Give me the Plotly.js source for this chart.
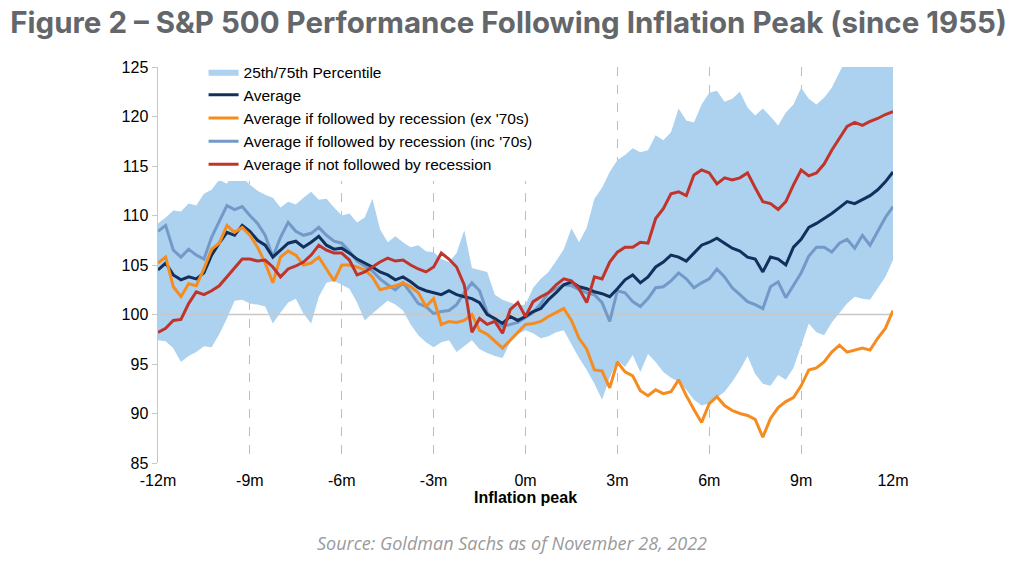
<!DOCTYPE html>
<html>
<head>
<meta charset="utf-8">
<script src="https://cdn.plot.ly/plotly-3.0.1.min.js"></script>
<style>
  html, body { margin: 0; padding: 0; background: #fff; }
  #chart { width: 1024px; height: 570px; }
</style>
</head>
<body>
<div id="chart"></div>
<script>
// months from -12 to +12, one point every quarter month
var months = [];
for (var i = 0; i <= 96; i++) months.push(-12 + i * 0.25);

var tickVals = [-12, -9, -6, -3, 0, 3, 6, 9, 12];
var tickText = ['-12m', '-9m', '-6m', '-3m', '0m', '3m', '6m', '9m', '12m'];
var baseline = 100;

var average = [
  104.5, 105.2, 104.0, 103.5, 103.8, 103.6, 104.2, 106.0, 107.2, 108.3,
  108.0, 109.0, 108.4, 107.5, 107.0, 105.8, 106.5, 107.2, 107.4, 106.8,
  107.3, 107.9, 107.0, 106.6, 106.7, 106.2, 105.6, 105.2, 104.8, 104.3,
  104.0, 103.5, 103.8, 103.3, 102.7, 102.4, 102.2, 102.0, 102.4, 102.0,
  101.8, 101.6, 101.2, 100.0, 99.6, 99.1, 99.8, 99.4, 99.8, 100.3,
  100.6, 101.5, 102.2, 103.0, 103.3, 102.8, 102.6, 102.3, 102.1, 101.8,
  102.6, 103.5, 104.0, 103.2, 103.8, 104.8, 105.3, 106.0, 105.8, 105.4,
  106.2, 107.0, 107.3, 107.7, 107.2, 106.7, 106.4, 105.8, 105.6, 104.3,
  105.8, 105.6, 105.0, 106.8, 107.6, 108.8, 109.2, 109.7, 110.2, 110.8,
  111.4, 111.2, 111.6, 112.0, 112.6, 113.4, 114.4
];

var recExSeventies = [
  105.2, 105.8, 102.8, 101.8, 103.1, 102.9, 104.6, 106.6, 107.2, 109.0,
  108.3, 108.8, 108.0, 106.8, 105.2, 103.2, 105.8, 106.4, 106.0, 105.0,
  105.2, 105.8, 104.6, 103.4, 105.0, 105.0, 104.8, 104.5, 103.8, 102.5,
  102.7, 102.9, 103.2, 102.8, 102.2, 100.8, 101.6, 99.0, 99.3, 99.2,
  99.4, 100.0, 98.4, 98.0, 97.3, 96.6, 97.4, 98.2, 99.0, 99.1,
  99.3, 99.8, 100.2, 100.6, 99.4, 97.6, 96.5, 94.4, 94.3, 92.6,
  95.2, 94.2, 93.8, 92.3, 91.8, 92.4, 92.0, 92.2, 93.4, 91.8,
  90.4, 89.1, 91.0, 91.7, 90.8, 90.3, 90.0, 89.8, 89.4, 87.6,
  89.5, 90.6, 91.2, 91.6, 92.8, 94.4, 94.6, 95.2, 96.2, 96.9,
  96.2, 96.4, 96.6, 96.4, 97.6, 98.6, 100.4
];

var recIncSeventies = [
  108.4, 109.0, 106.5, 105.8, 106.6, 106.0, 105.6, 107.8, 109.4, 111.0,
  110.6, 110.9, 110.0, 109.2, 108.0, 105.8, 107.8, 109.3, 108.4, 108.0,
  108.2, 108.8, 108.0, 107.4, 107.2, 106.4, 105.4, 104.9, 104.4, 103.6,
  103.0, 102.5, 103.2, 102.2, 101.1, 100.8, 100.1, 100.3, 100.4, 101.0,
  102.2, 103.2, 102.4, 100.2, 99.4, 98.8, 99.0, 99.2, 99.7, 100.2,
  101.1, 102.2, 102.6, 103.0, 102.9, 102.5, 102.2, 102.0, 101.2, 99.3,
  102.4, 102.2, 101.3, 100.8, 101.6, 102.7, 102.8, 103.4, 104.2, 103.6,
  102.7, 103.2, 103.6, 104.6, 103.8, 102.7, 102.0, 101.3, 101.0, 100.6,
  102.8, 103.3, 101.7, 102.9, 104.2, 105.9, 106.8, 106.8, 106.3, 107.2,
  107.6, 106.7, 108.0, 107.0, 108.4, 109.8, 110.9
];

var noRecession = [
  98.2, 98.6, 99.4, 99.5, 101.1, 102.3, 102.0, 102.4, 102.9, 103.8,
  104.8, 105.6, 105.6, 105.4, 105.5, 104.8, 103.8, 104.6, 104.9, 105.3,
  106.0, 107.0, 106.5, 106.2, 106.2, 105.5, 104.0, 104.3, 104.8, 105.3,
  105.7, 105.4, 105.5, 105.0, 104.6, 104.3, 104.8, 106.2, 105.6, 104.8,
  103.0, 98.2, 99.6, 99.0, 99.3, 98.1, 100.5, 101.2, 99.8, 101.3,
  101.8, 102.2, 103.0, 103.6, 103.4, 102.6, 101.2, 103.8, 103.6, 105.3,
  106.3, 106.8, 106.8, 107.3, 107.2, 109.7, 110.7, 112.2, 112.4, 112.0,
  114.1, 114.6, 114.3, 113.2, 113.8, 113.6, 113.8, 114.3, 112.8, 111.4,
  111.2, 110.6, 111.4, 113.1, 114.6, 114.0, 114.3, 115.2, 116.6, 117.8,
  119.0, 119.4, 119.1, 119.5, 119.8, 120.2, 120.5
];

var pct75 = [
  109.2, 109.8, 110.5, 110.4, 111.2, 111.0, 112.2, 112.6, 113.6, 113.2,
  114.6, 113.8, 113.1, 112.5, 112.1, 111.8, 110.8, 111.4, 111.1, 111.8,
  112.4, 111.6, 111.7, 110.8, 110.0, 110.2, 109.3, 109.8, 111.7, 108.6,
  107.3, 107.9, 107.3, 106.8, 107.0, 106.4, 106.3, 105.6, 105.3, 106.2,
  108.5, 104.7, 104.5, 104.3, 102.0, 101.5, 101.2, 100.9, 101.0, 102.7,
  103.6, 104.3, 105.4, 106.6, 108.7, 107.3, 108.8, 111.7, 112.8, 114.4,
  115.6, 116.1, 116.8, 116.4, 116.6, 118.1, 117.6, 118.4, 120.8, 119.6,
  119.4, 121.2, 122.4, 122.6, 121.5, 121.8, 122.5, 120.9, 120.1, 120.8,
  120.0, 119.1, 120.4, 121.2, 122.9, 121.8, 121.2, 121.9, 122.9, 124.4,
  126.0, 126.5, 127.0, 127.0, 127.5, 127.8, 128.0
];

var pct25 = [
  97.4, 97.3, 96.6, 95.2, 95.8, 96.2, 96.8, 96.7, 98.0, 99.6,
  101.4, 101.5, 101.1, 101.0, 100.8, 99.1, 100.2, 101.2, 101.6, 100.1,
  99.1, 101.8, 103.2, 103.4, 103.0, 102.6, 101.2, 99.4, 100.1, 100.8,
  101.4, 101.0, 100.4, 99.0, 97.9, 97.2, 96.7, 97.2, 97.4, 96.2,
  96.8, 97.4, 96.5, 96.1, 95.8, 95.6, 97.2, 98.0, 98.4, 98.1,
  97.6, 97.8, 98.2, 98.4, 97.0, 95.6, 94.4, 93.0, 91.4, 93.6,
  95.4, 94.7, 95.9, 94.2, 96.0, 95.2, 94.2, 93.6, 93.2, 92.4,
  91.4, 90.8, 91.0, 91.6, 92.2, 93.2, 94.4, 95.8, 94.0, 93.0,
  92.8, 93.9, 93.4, 94.6, 96.8, 99.1, 98.2, 97.9, 99.2, 100.2,
  101.1, 101.8, 101.6, 101.5, 102.6, 103.8, 105.5
];

var lineFont = 'Liberation Sans, Arial, sans-serif';

var traces = [
  { x: months, y: pct25, type: 'scatter', mode: 'lines', line: {width: 0},
    showlegend: false, hoverinfo: 'skip' },
  { x: months, y: pct75, type: 'scatter', mode: 'lines', line: {width: 0},
    fill: 'tonexty', fillcolor: '#acd2f0', name: '25th/75th Percentile', legendrank: 1 },
  // the 100 reference line sits over the band but under the averages
  { x: [-12, 12], y: [baseline, baseline], type: 'scatter', mode: 'lines',
    line: {color: '#c8c8c8', width: 1.5}, showlegend: false, hoverinfo: 'skip' },
  { x: months, y: recIncSeventies, type: 'scatter', mode: 'lines',
    line: {color: '#7399c9', width: 3}, name: "Average if followed by recession (inc '70s)", legendrank: 4 },
  { x: months, y: average, type: 'scatter', mode: 'lines',
    line: {color: '#13305c', width: 3}, name: 'Average', legendrank: 2 },
  { x: months, y: recExSeventies, type: 'scatter', mode: 'lines',
    line: {color: '#f68b1f', width: 3}, name: "Average if followed by recession (ex '70s)", legendrank: 3 },
  { x: months, y: noRecession, type: 'scatter', mode: 'lines',
    line: {color: '#c1342c', width: 3}, name: 'Average if not followed by recession', legendrank: 5 }
];

var layout = {
  width: 1024, height: 570,
  margin: {l: 158, r: 131, t: 67, b: 107},
  paper_bgcolor: '#fff', plot_bgcolor: '#fff',
  font: {family: lineFont, size: 16, color: '#000'},
  title: {
    text: '<b>Figure 2 – S&P 500 Performance Following Inflation Peak (since 1955)</b>',
    font: {family: 'Inter, Roboto, sans-serif', size: 29.5, color: '#63666a'},
    xref: 'container', x: 0.01, xanchor: 'left',
    yref: 'container', y: 0.96, yanchor: 'middle'
  },
  xaxis: {
    range: [-12, 12], tickvals: tickVals, ticktext: tickText,
    showgrid: true, gridcolor: '#bdbdbd', griddash: 'dash', gridwidth: 1,
    zeroline: false, showline: false,
    ticks: 'outside', ticklen: 3, tickcolor: 'rgba(0,0,0,0)',
    tickfont: {size: 16},
    title: {text: '<b>Inflation peak</b>', font: {size: 16}, standoff: 0}
  },
  yaxis: {
    range: [85, 125], dtick: 5, showgrid: false, zeroline: false,
    showline: true, linecolor: '#c8c8c8', linewidth: 1.5,
    ticks: 'outside', ticklen: 5, tickcolor: '#c8c8c8',
    tickfont: {size: 16}
  },
  legend: {
    x: 0.062, y: 1.03, xanchor: 'left', yanchor: 'top',
    bgcolor: '#fff', font: {size: 15.5}, tracegroupgap: 0,
    traceorder: 'normal'
  },
  annotations: [
    { text: '<i>Source: Goldman Sachs as of November 28, 2022</i>',
      xref: 'paper', yref: 'paper', x: 0.4816, y: -0.202,
      xanchor: 'center', yanchor: 'middle', showarrow: false,
      font: {family: 'Open Sans, Liberation Sans, sans-serif', size: 18, color: '#9a9a9a'} }
  ]
};

Plotly.newPlot('chart', traces, layout, {displayModeBar: false, staticPlot: true});
</script>
</body>
</html>
